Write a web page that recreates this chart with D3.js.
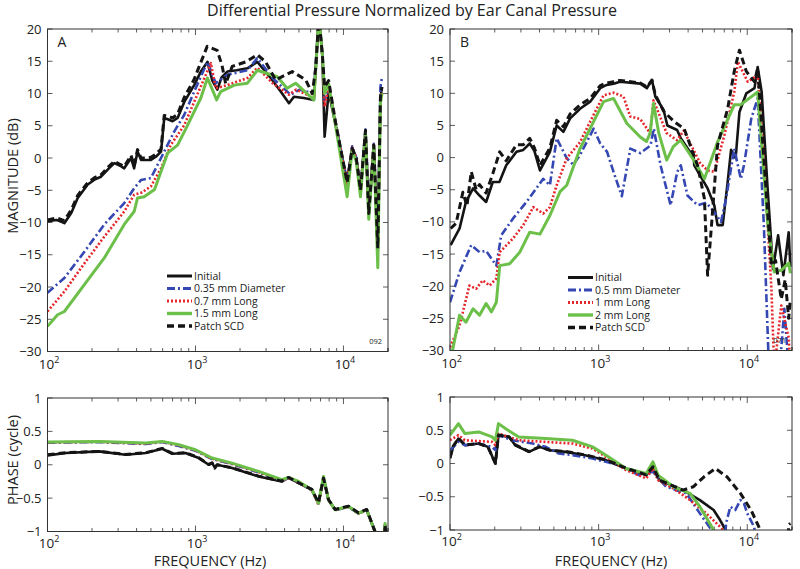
<!DOCTYPE html>
<html>
<head>
<script src="https://cdnjs.cloudflare.com/ajax/libs/d3/7.8.5/d3.min.js"></script>
<style>
  body { margin: 0; background: #fff; }
  text { font-family: "Open Sans", "Liberation Sans", sans-serif; fill: #222; }
</style>
</head>
<body>
<svg></svg>
<script>
// ---- data (frequency Hz, value) ----
var magA_initial = [[100,-9.8],[115,-9.6],[130,-10.1],[145,-8.5],[160,-6.2],[187,-4.1],[210,-3.3],[230,-2.9],[260,-1.6],[283,-0.8],[310,-1.2],[330,-1.6],[367,0],[385,-1.6],[406,1.0],[429,-0.3],[470,-0.3],[500,-0.3],[540,0.2],[585,1.0],[615,6.2],[650,6.0],[700,5.7],[757,6.2],[840,8.7],[980,11.3],[1087,13.4],[1205,14.9],[1300,12.0],[1406,10.6],[1500,12.5],[1643,13.4],[1900,13.6],[2243,13.9],[2620,14.9],[3224,12.4],[3765,10.3],[4285,8.5],[4630,9.5],[5400,9.3],[6310,9.0],[6820,22],[7200,16],[7460,3.3],[7940,10.3],[8850,5.1],[10590,-3.6],[11450,1.5],[12200,0],[13040,-4.7],[14090,4.1],[14820,-8.3],[16030,2.0],[17060,-13.4],[17780,9.3],[18200,11]];
var magA_035dia = [[100,-20.9],[130,-18.6],[178,-14.5],[242,-10.3],[330,-7.0],[385,-4.7],[429,-3.4],[500,-3.1],[585,0],[718,4.1],[840,6.7],[980,10.3],[1205,14.9],[1370,11.6],[1643,12.9],[2243,13.6],[2620,15.5],[3320,12.4],[3950,10.8],[4400,9.8],[5060,10.6],[6310,10.0],[6820,22],[7200,16],[7460,9],[7940,11],[8850,5.5],[10590,-3.8],[11450,1.8],[12200,0],[13040,-5],[14090,4.4],[14820,-8.6],[16030,2.2],[17060,-14],[17780,11],[18200,12.5]];
var magA_07long = [[100,-23.8],[130,-20.7],[178,-16.3],[242,-12.2],[330,-8.3],[385,-5.7],[429,-5.4],[500,-4.4],[585,-1.6],[680,2.0],[840,5.1],[980,8.7],[1270,14.7],[1370,10.8],[1643,11.3],[2243,12.4],[2620,14.0],[3320,11.6],[4285,9.8],[4800,10.6],[6310,9.3],[6820,22],[7200,16],[7460,8],[7940,11],[8850,5.3],[10590,-4],[11450,1.6],[12200,0],[13040,-5.2],[14090,4.2],[14820,-8.8],[16030,2.0],[17060,-14.5],[17780,9],[18200,10]];
var magA_15long = [[100,-26.1],[117,-24.3],[130,-23.8],[178,-19.6],[242,-15.5],[330,-10.3],[385,-8.3],[406,-6.2],[450,-6.0],[529,-4.9],[650,0.8],[757,2.0],[885,5.1],[1087,9.3],[1205,12.4],[1390,9.0],[1480,10.3],[1830,11.3],[2243,11.6],[2620,13.6],[3570,12.6],[4160,10.8],[4750,11.6],[6310,9.0],[6820,22],[7200,16],[7460,10],[7940,11.5],[8850,5],[10590,-6],[11450,1.2],[12200,-0.5],[13040,-6],[14090,3.8],[14820,-9.5],[16030,1.8],[17060,-17],[17780,8.5],[18200,10]];
var magA_patch = [[100,-9.6],[115,-9.3],[130,-9.7],[145,-8.0],[160,-5.8],[187,-3.8],[210,-3.0],[230,-2.6],[260,-1.3],[283,-0.5],[310,-1.0],[330,-1.3],[367,0.4],[385,-1.2],[406,1.3],[429,0],[470,0],[500,0.1],[540,0.6],[585,1.4],[615,6.6],[650,6.5],[700,6.2],[757,6.8],[840,9.4],[980,12.2],[1060,14.2],[1200,17.3],[1400,16.7],[1510,14.4],[1600,11.5],[1770,14.2],[2190,14.9],[2620,16.0],[2980,14.9],[3480,12.1],[4000,12.8],[4510,13.4],[5560,12.1],[6150,10.0],[6500,14],[6820,22],[7200,16],[7460,11],[7940,12],[8850,5.5],[10590,-3.8],[11450,1.5],[12200,0],[13040,-5],[14090,4.3],[14820,-8.6],[16030,2.0],[17060,-14],[17780,9.5],[18200,11]];

var magB_initial = [[101,-13.6],[116,-11.0],[128,-6.9],[143,-4.8],[158,-5.9],[175,-6.9],[194,-3.8],[215,-3.8],[239,-1.2],[280,0.9],[311,1.2],[344,2.2],[370,1.0],[403,-2.0],[470,0.9],[522,5.0],[579,4.0],[643,6.1],[750,7.6],[877,8.7],[1025,10.8],[1132,11.3],[1260,11.5],[1393,11.8],[1905,11.5],[2113,10.8],[2285,12.1],[2406,9.5],[2737,7.4],[2900,5.0],[3373,4.3],[3570,3.0],[4365,0],[4400,-1.2],[5410,-4.8],[6000,-7.4],[6310,-10.5],[6835,-10.5],[7380,-3.8],[7780,1.2],[8350,-0.1],[8860,7.1],[9860,10.0],[11190,10.8],[11750,14.1],[12500,10.2],[13750,-5.3],[14900,-17.3],[16130,-12.1],[17500,-18.3],[19000,-11.6],[19500,-17]];
var magB_05dia = [[100,-22.5],[116,-17.8],[139,-13.6],[158,-14.7],[175,-14.5],[205,-16.8],[221,-12.1],[265,-9.5],[327,-6.9],[424,-3.3],[470,-4.3],[522,3.0],[610,-0.1],[675,-1.1],[750,0.4],[925,4.5],[1025,2.2],[1140,0.9],[1250,-2],[1432,-6.0],[1635,1.4],[1910,0.7],[2234,1.9],[2350,4.5],[2610,-1.2],[3050,-7.4],[3380,-2.2],[3570,-1.2],[3960,-5.9],[4630,-7.4],[5300,-7.0],[6000,-8.5],[6660,-10.0],[7200,-6.4],[8170,1.4],[9050,-3.3],[9500,-1.2],[10650,6.1],[11750,9.2],[12930,-10.5],[14000,-33],[16500,-33],[17770,-23.5],[19000,-33]];
var magB_1long = [[100,-29.5],[116,-26.1],[135,-19.9],[150,-20.4],[166,-19.1],[185,-19.9],[205,-18.8],[216,-14.7],[265,-12.6],[311,-10.5],[363,-7.7],[424,-8.7],[470,-7.7],[522,-4.3],[610,-0.1],[750,2.4],[877,5.6],[1080,9.7],[1260,10.1],[1470,9.5],[1630,6.4],[1905,6.0],[2220,3.8],[2340,8.9],[2870,3.8],[3370,2.7],[3740,4.2],[4830,-0.9],[5420,-2.0],[6000,-2.2],[7020,3.5],[8170,10.2],[8650,14.9],[10070,11.8],[11750,12.8],[12930,-0.1],[14540,-20.4],[15200,-33],[16940,-23],[19000,-28],[19500,-33]];
var magB_2long = [[98,-33],[116,-24.5],[128,-25.6],[143,-23.5],[158,-24.5],[175,-22.7],[190,-24.0],[205,-22.5],[216,-16.8],[252,-16.5],[295,-14.7],[344,-11.6],[403,-11.9],[470,-9.0],[550,-5.3],[610,-4.3],[750,1.4],[925,5.6],[1080,8.7],[1260,9.2],[1550,5.3],[1905,3.2],[2100,2.5],[2220,3.8],[2340,8.4],[2540,3.8],[2870,-0.4],[3180,1.7],[3560,2.7],[4370,-0.4],[5150,-3.3],[6310,2.4],[8170,8.2],[9000,8.2],[11750,10.2],[13750,-10.5],[15200,-17.8],[17000,-17.5],[19000,-16.4],[19500,-18]];
var magB_patch = [[101,-11.0],[110,-10.2],[122,-5.4],[130,-7.5],[139,-2.2],[150,-5],[158,-4.2],[175,-5.5],[194,-2.5],[216,0.9],[239,-0.5],[280,2.0],[311,2.0],[344,3.0],[370,1.5],[403,-1.2],[470,1.5],[522,5.8],[579,4.8],[643,6.8],[750,8.2],[877,9.2],[1025,11.2],[1132,11.6],[1260,11.8],[1393,12.0],[1905,11.6],[2113,11.0],[2285,12.0],[2406,9.8],[2737,7.2],[3220,5.6],[3760,4.5],[4630,-1.2],[5150,-6.4],[5410,-18.3],[5700,-11.6],[6310,1.9],[7380,7.6],[8170,13.4],[8860,16.7],[9860,13.4],[11190,11.8],[11750,13.9],[12930,-0.1],[14540,-16.8],[15500,-16],[16940,-22],[18000,-19],[19000,-25],[19500,-22]];

var phA_initial = [[100,0.14],[133,0.175],[223,0.2],[337,0.15],[460,0.175],[596,0.24],[697,0.165],[857,0.175],[1052,0.10],[1230,0.0],[1295,0.025],[1350,-0.04],[1400,0.0],[1766,-0.05],[2673,-0.175],[3838,-0.25],[4255,-0.19],[4975,-0.275],[6120,-0.375],[6780,-0.575],[7330,-0.2],[7920,-0.525],[8790,-0.675],[10820,-0.625],[12620,-0.725],[14360,-0.675],[16330,-1.0],[17500,-1.2],[18900,-1.15],[19100,-0.9],[19500,-1.1]];
var phA_035dia = [[100,0.33],[223,0.34],[460,0.31],[596,0.34],[772,0.28],[1000,0.21],[1295,0.085],[1766,0.01],[2673,-0.115],[3838,-0.24],[4255,-0.2],[4975,-0.265],[6120,-0.385],[6780,-0.58],[7330,-0.19],[7920,-0.53],[8790,-0.68],[10820,-0.63],[12620,-0.73],[14360,-0.68],[16330,-1.0],[17500,-1.2],[18900,-1.15],[19100,-0.9],[19500,-1.1]];
var phA_07long = [[100,0.335],[223,0.345],[460,0.315],[596,0.345],[772,0.29],[1000,0.215],[1295,0.09],[1766,0.015],[2673,-0.11],[3838,-0.235],[4255,-0.2],[4975,-0.26],[6120,-0.38],[6780,-0.6],[7330,-0.18],[7920,-0.53],[8790,-0.68],[10820,-0.63],[12620,-0.73],[14360,-0.68],[16330,-1.0],[17500,-1.2],[18900,-1.15],[19100,-0.9],[19500,-1.1]];
var phA_15long = [[100,0.34],[223,0.35],[460,0.325],[596,0.35],[772,0.30],[1000,0.225],[1295,0.10],[1766,0.025],[2673,-0.10],[3838,-0.225],[4255,-0.19],[4975,-0.25],[6120,-0.375],[6780,-0.575],[7330,-0.175],[7920,-0.525],[8790,-0.675],[10820,-0.625],[12620,-0.725],[14360,-0.675],[16330,-1.0],[17500,-1.2],[18900,-1.15],[19100,-0.88],[19500,-1.1]];
var phA_patch = [[100,0.15],[133,0.18],[223,0.2],[337,0.155],[460,0.18],[596,0.245],[697,0.17],[857,0.18],[1052,0.105],[1230,0.005],[1295,0.03],[1350,-0.05],[1400,0.0],[1766,-0.045],[2673,-0.17],[3838,-0.245],[4255,-0.19],[4975,-0.27],[6120,-0.37],[6780,-0.57],[7330,-0.2],[7920,-0.52],[8790,-0.67],[10820,-0.62],[12620,-0.72],[14360,-0.67],[16330,-1.0],[17500,-1.2],[18900,-1.15],[19100,-0.9],[19500,-1.1]];

var phB_initial = [[100,0.075],[105,0.25],[114,0.375],[126,0.275],[156,0.30],[180,0.25],[202,0.0],[212,0.425],[250,0.40],[275,0.275],[340,0.175],[400,0.25],[470,0.20],[600,0.175],[810,0.125],[1120,0.05],[1530,-0.075],[2090,-0.175],[2320,-0.05],[2560,-0.25],[3700,-0.40],[4800,-0.55],[5940,-0.70],[6560,-0.85],[7150,-1.0],[7500,-1.1]];
var phB_05dia = [[100,0.20],[114,0.325],[126,0.275],[156,0.30],[192,0.25],[202,0.20],[212,0.425],[262,0.35],[360,0.30],[440,0.25],[540,0.15],[667,0.125],[910,0.075],[1370,-0.025],[1870,-0.175],[2320,-0.125],[2850,-0.35],[3900,-0.45],[4800,-0.75],[5750,-1.0],[6000,-1.1],[7100,-1.1],[7200,-0.9],[7700,-0.65],[8300,-0.7],[9000,-0.55],[9500,-0.6],[10000,-0.75],[11100,-0.95],[11500,-1.1]];
var phB_1long = [[100,0.35],[114,0.425],[126,0.35],[192,0.325],[202,0.275],[212,0.45],[290,0.35],[440,0.325],[667,0.30],[910,0.225],[1120,0.10],[1530,-0.10],[2090,-0.225],[2320,-0.075],[2510,-0.25],[3180,-0.375],[4120,-0.55],[5300,-0.75],[6900,-1.0],[7300,-1.1]];
var phB_2long = [[100,0.425],[114,0.60],[126,0.45],[156,0.475],[192,0.40],[202,0.35],[212,0.60],[236,0.525],[290,0.40],[440,0.375],[667,0.35],[910,0.25],[1120,0.125],[1530,-0.075],[2090,-0.15],[2320,0.025],[2510,-0.175],[3180,-0.35],[4120,-0.45],[4800,-0.65],[5940,-1.0],[6200,-1.1]];
var phB_patch = [[100,0.09],[105,0.26],[114,0.38],[126,0.28],[156,0.30],[180,0.25],[202,0.0],[212,0.43],[250,0.40],[275,0.28],[340,0.18],[400,0.25],[470,0.20],[600,0.18],[810,0.13],[1120,0.055],[1530,-0.07],[2090,-0.17],[2320,-0.05],[2560,-0.25],[3700,-0.40],[4330,-0.35],[5120,-0.2],[6100,-0.075],[7300,-0.2],[9000,-0.45],[10600,-0.7],[11950,-0.95],[12500,-1.1],[18800,-1.1],[19000,-0.92],[19500,-0.9]];

var legendA = ["Initial", "0.35 mm Diameter", "0.7 mm Long", "1.5 mm Long", "Patch SCD"];
var legendB = ["Initial", "0.5 mm Diameter", "1 mm Long", "2 mm Long", "Patch SCD"];
var magTicks = [20, 15, 10, 5, 0, -5, -10, -15, -20, -25, -30];
var phaseTicks = [1, 0.5, 0, -0.5, -1];
var decades = [100, 1000, 10000];

// ---- styles per series (Initial, diameter, short long, long long, patch) ----
var styles = [
  { color: "#141414", width: 2.6, dash: null },
  { color: "#3547b3", width: 2.6, dash: "8,3,2,3" },
  { color: "#e5262b", width: 2.6, dash: "2,2" },
  { color: "#6cc04a", width: 3, dash: null },
  { color: "#141414", width: 3, dash: "7,4" }
];

var svg = d3.select("svg").attr("width", 800).attr("height", 569);

svg.append("text").attr("x", 412).attr("y", 16).attr("text-anchor", "middle")
  .style("font-size", "16px").text("Differential Pressure Normalized by Ear Canal Pressure");

function fmt(v) { return (v < 0 ? "\u2212" : "") + Math.abs(v); }

var panelId = 0;
function panel(x0, x1, y0, y1, ydom, yticks, series, opts) {
  panelId++;
  var x = d3.scaleLog().domain([100, 20000]).range([x0, x1]);
  var y = d3.scaleLinear().domain(ydom).range([y1, y0]);
  var g = svg.append("g");
  g.append("clipPath").attr("id", "clip" + panelId).append("rect")
    .attr("x", x0).attr("y", y0).attr("width", x1 - x0).attr("height", y1 - y0);

  // minor and major log ticks (top and bottom, inside)
  var minor = [];
  decades.forEach(function(d) { for (var k = 1; k < 10; k++) if (d * k <= 20000) minor.push(d * k); });
  minor.push(20000);
  minor.forEach(function(f) {
    var major = decades.indexOf(f) >= 0;
    var len = major ? 6 : 3.5;
    g.append("line").attr("x1", x(f)).attr("x2", x(f)).attr("y1", y1).attr("y2", y1 - len)
      .attr("stroke", "#333").attr("stroke-width", 0.8);
    g.append("line").attr("x1", x(f)).attr("x2", x(f)).attr("y1", y0).attr("y2", y0 + len)
      .attr("stroke", "#333").attr("stroke-width", 0.8);
  });
  decades.forEach(function(f) {
    var t = g.append("text").attr("x", x(f) + 1.5).attr("y", y1 + opts.xdy).attr("text-anchor", "middle")
      .style("font-size", "13.5px");
    t.append("tspan").text("10");
    t.append("tspan").attr("dy", -6).style("font-size", "9px").text(Math.round(Math.log10(f)));
  });

  yticks.forEach(function(v) {
    g.append("line").attr("x1", x0).attr("x2", x0 + 5).attr("y1", y(v)).attr("y2", y(v))
      .attr("stroke", "#333").attr("stroke-width", 0.8);
    g.append("line").attr("x1", x1).attr("x2", x1 - 5).attr("y1", y(v)).attr("y2", y(v))
      .attr("stroke", "#333").attr("stroke-width", 0.8);
    g.append("text").attr("x", x0 - 6).attr("y", y(v) + 4.5).attr("text-anchor", "end")
      .style("font-size", "13px").text(fmt(v));
  });

  var line = d3.line().x(function(d) { return x(d[0]); }).y(function(d) { return y(d[1]); });
  var lg = g.append("g").attr("clip-path", "url(#clip" + panelId + ")");
  series.forEach(function(s, i) {
    var st = styles[i];
    lg.append("path").datum(s).attr("d", line).attr("fill", "none")
      .attr("stroke", st.color).attr("stroke-width", st.width)
      .attr("stroke-linejoin", "round")
      .attr("stroke-dasharray", st.dash);
  });

  g.append("rect").attr("x", x0).attr("y", y0).attr("width", x1 - x0).attr("height", y1 - y0)
    .attr("fill", "none").attr("stroke", "#333").attr("stroke-width", 1);

  if (opts.letter) {
    g.append("text").attr("x", x0 + 10).attr("y", y0 + 18).style("font-size", "14px").text(opts.letter);
  }
  if (opts.legend) {
    opts.legend.forEach(function(name, i) {
      var st = styles[i];
      var ly = opts.ly + i * 12.5;
      g.append("line").attr("x1", opts.lx).attr("x2", opts.lx + 25).attr("y1", ly).attr("y2", ly)
        .attr("stroke", st.color).attr("stroke-width", st.width + 0.4).attr("stroke-dasharray", st.dash);
      g.append("text").attr("x", opts.lx + 27).attr("y", ly + 3.5).style("font-size", "10.5px").text(name);
    });
  }
  if (opts.code) {
    g.append("text").attr("x", x1 - 6).attr("y", y1 - 8).attr("text-anchor", "end")
      .style("font-size", "7.5px").text(opts.code);
  }
}

panel(47.5, 388, 29, 351.5, [-30, 20], magTicks,
  [magA_initial, magA_035dia, magA_07long, magA_15long, magA_patch],
  { letter: "A", legend: legendA, lx: 167, ly: 276, code: "092", xdy: 17.5 });
panel(450, 792, 29, 350.5, [-30, 20], magTicks,
  [magB_initial, magB_05dia, magB_1long, magB_2long, magB_patch],
  { letter: "B", legend: legendB, lx: 568, ly: 277.5, code: "071", xdy: 17.5 });
panel(47.5, 388, 398, 531.5, [-1, 1], phaseTicks,
  [phA_initial, phA_035dia, phA_07long, phA_15long, phA_patch], { xdy: 16 });
panel(450, 792, 397, 530, [-1, 1], phaseTicks,
  [phB_initial, phB_05dia, phB_1long, phB_2long, phB_patch], { xdy: 16 });

// axis titles
svg.append("text").attr("transform", "translate(18,176) rotate(-90)").attr("text-anchor", "middle")
  .style("font-size", "14.5px").text("MAGNITUDE (dB)");
svg.append("text").attr("transform", "translate(18,460) rotate(-90)").attr("text-anchor", "middle")
  .style("font-size", "14.5px").text("PHASE (cycle)");
svg.append("text").attr("x", 210).attr("y", 566).attr("text-anchor", "middle")
  .style("font-size", "14.5px").text("FREQUENCY (Hz)");
svg.append("text").attr("x", 611).attr("y", 566).attr("text-anchor", "middle")
  .style("font-size", "14.5px").text("FREQUENCY (Hz)");
</script>
</body>
</html>
